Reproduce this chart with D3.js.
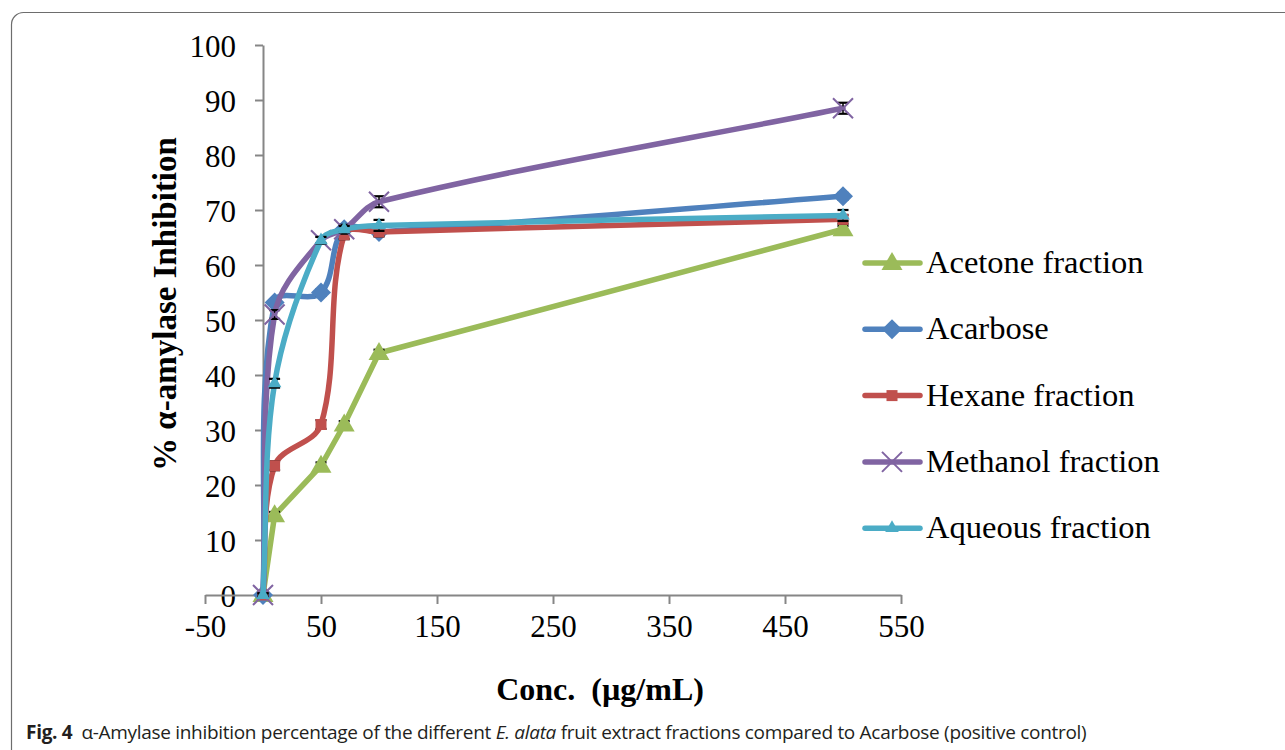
<!DOCTYPE html>
<html>
<head>
<meta charset="utf-8">
<script src="https://cdn.jsdelivr.net/npm/d3@7/dist/d3.min.js"></script>
<style>
  html, body { margin: 0; padding: 0; background: #fff; }
  svg { display: block; }
</style>
</head>
<body>
<svg id="chart" width="1285" height="750"></svg>
<script>
// Concentrations tested (µg/mL)
const concentrations = [0, 10, 50, 70, 100, 500];

// % α-amylase inhibition per fraction
const acetone  = [0, 14.5, 23.5, 31.0, 44.0, 66.5];
const acarbose = [0, 53.2, 55.0, 66.5, 66.0, 72.5];
const hexane   = [0, 23.5, 31.0, 65.5, 66.0, 68.3];
const methanol = [0, 51.0, 64.5, 66.5, 71.5, 88.5];
const aqueous  = [0, 38.5, 64.5, 66.5, 67.2, 69.0];

// Standard deviations (error bars)
const acetoneErr  = [0.3, 0.6, 0.6, 0.6, 0.6, 0.6];
const acarboseErr = [0.3, 0.6, 0.6, 0.6, 0.6, 0.6];
const hexaneErr   = [0.3, 0.8, 0.8, 0.8, 0.8, 0.8];
const methanolErr = [0.3, 0.8, 0.6, 0.8, 1.0, 1.0];
const aqueousErr  = [0.3, 0.8, 0.6, 0.6, 1.0, 1.0];

const seriesNames = ["Acetone fraction", "Acarbose", "Hexane fraction", "Methanol fraction", "Aqueous fraction"];
const seriesColors = ["#9BBB59", "#4F81BD", "#C0504D", "#8064A2", "#4BACC6"];

const xTicks = [-50, 50, 150, 250, 350, 450, 550];
const yTicks = [0, 10, 20, 30, 40, 50, 60, 70, 80, 90, 100];

const series = [
  { name: seriesNames[0], color: seriesColors[0], values: acetone,  err: acetoneErr,  marker: "triangle", smooth: false },
  { name: seriesNames[1], color: seriesColors[1], values: acarbose, err: acarboseErr, marker: "diamond",  smooth: true },
  { name: seriesNames[2], color: seriesColors[2], values: hexane,   err: hexaneErr,   marker: "square",   smooth: true },
  { name: seriesNames[3], color: seriesColors[3], values: methanol, err: methanolErr, marker: "cross",    smooth: true },
  { name: seriesNames[4], color: seriesColors[4], values: aqueous,  err: aqueousErr,  marker: "smalltri", smooth: true }
];

const svg = d3.select("#chart");
const serif = "'Liberation Serif', 'Times New Roman', serif";

// Rounded frame around figure
svg.append("rect")
  .attr("x", 11.5).attr("y", 12.5)
  .attr("width", 1300).attr("height", 760)
  .attr("rx", 12).attr("ry", 12)
  .attr("fill", "none")
  .attr("stroke", "#6d6d6d")
  .attr("stroke-width", 1.2);

const x = d3.scaleLinear().domain([-50, 550]).range([205, 901]);
const y = d3.scaleLinear().domain([0, 100]).range([595, 45]);

const axisColor = "#868686";

// Y axis at x = 0
const yAxis = svg.append("g")
  .attr("transform", `translate(${x(0)},0)`)
  .call(d3.axisLeft(y).tickValues(yTicks).tickSize(8).tickPadding(19).tickSizeOuter(0));
yAxis.select(".domain").attr("stroke", axisColor).attr("stroke-width", 2);
yAxis.selectAll(".tick line").attr("stroke", axisColor).attr("stroke-width", 2);
yAxis.selectAll(".tick text")
  .attr("fill", "#000").attr("font-family", serif).attr("font-size", 31)
  .attr("dy", "0.36em");

// X axis at y = 0
const xAxis = svg.append("g")
  .attr("transform", `translate(0,${y(0)})`)
  .call(d3.axisBottom(x).tickValues(xTicks).tickSize(9).tickPadding(14).tickSizeOuter(0));
xAxis.select(".domain").attr("stroke", axisColor).attr("stroke-width", 2);
xAxis.selectAll(".tick line").attr("stroke", axisColor).attr("stroke-width", 2);
xAxis.selectAll(".tick text")
  .attr("fill", "#000").attr("font-family", serif).attr("font-size", 31)
  .attr("dy", "0.62em")
  .text(d => d < 0 ? "-" + Math.abs(d) : d);

// Axis titles
svg.append("text")
  .attr("transform", `translate(176,304) rotate(-90)`)
  .attr("text-anchor", "middle")
  .attr("font-family", serif).attr("font-weight", "bold").attr("font-size", 33)
  .text("% α-amylase Inhibition");

svg.append("text")
  .attr("x", 600).attr("y", 700)
  .attr("text-anchor", "middle")
  .attr("font-family", serif).attr("font-weight", "bold").attr("font-size", 32)
  .attr("xml:space", "preserve")
  .text("Conc.  (µg/mL)");

// Spreadsheet-style smoothed line: cubic Bézier segments whose tangent
// at each point follows its neighbours, with handle length set by the
// length of the segment it belongs to (keeps long segments nearly straight).
function smoothPath(pts, k) {
  const p = d3.path();
  const n = pts.length;
  const tangent = i => {
    const a = pts[Math.max(0, i - 1)], b = pts[Math.min(n - 1, i + 1)];
    const dx = b[0] - a[0], dy = b[1] - a[1];
    const len = Math.hypot(dx, dy) || 1;
    return [dx / len, dy / len];
  };
  p.moveTo(pts[0][0], pts[0][1]);
  for (let i = 0; i < n - 1; i++) {
    const a = pts[i], b = pts[i + 1];
    const seg = Math.hypot(b[0] - a[0], b[1] - a[1]) * k;
    const ta = tangent(i), tb = tangent(i + 1);
    p.bezierCurveTo(a[0] + ta[0] * seg, a[1] + ta[1] * seg,
                    b[0] - tb[0] * seg, b[1] - tb[1] * seg,
                    b[0], b[1]);
  }
  return p.toString();
}

// Marker shapes
function drawMarker(g, type, color, cx, cy) {
  if (type === "triangle") {
    g.append("path").attr("d", d3.symbol(d3.symbolTriangle, 190)()).attr("transform", `translate(${cx},${cy + 1})`).attr("fill", color);
  } else if (type === "smalltri") {
    g.append("path").attr("d", d3.symbol(d3.symbolTriangle, 80)()).attr("transform", `translate(${cx},${cy})`).attr("fill", color);
  } else if (type === "diamond") {
    g.append("path").attr("d", "M0,-10L10,0L0,10L-10,0Z").attr("transform", `translate(${cx},${cy})`).attr("fill", color);
  } else if (type === "square") {
    g.append("rect").attr("x", cx - 5.5).attr("y", cy - 5.5).attr("width", 11).attr("height", 11).attr("fill", color);
  } else if (type === "cross") {
    g.append("path").attr("d", "M-10,-10L10,10M-10,10L10,-10").attr("transform", `translate(${cx},${cy})`)
      .attr("stroke", color).attr("stroke-width", 2).attr("fill", "none");
  }
}

const plot = svg.append("g");
series.forEach(s => {
  const pts = concentrations.map((c, i) => [x(c), y(s.values[i])]);
  const g = plot.append("g");
  g.append("path")
    .attr("d", s.smooth ? smoothPath(pts, 0.33) : d3.line()(pts))
    .attr("fill", "none")
    .attr("stroke", s.color)
    .attr("stroke-width", 5.5)
    .attr("stroke-linejoin", "round")
    .attr("stroke-linecap", "round");
  // error bars
  concentrations.forEach((c, i) => {
    const cx = x(c), yt = y(s.values[i] + s.err[i]), yb = y(s.values[i] - s.err[i]);
    g.append("line").attr("x1", cx).attr("x2", cx).attr("y1", yt).attr("y2", yb).attr("stroke", "#000").attr("stroke-width", 1.5);
    g.append("line").attr("x1", cx - 5.5).attr("x2", cx + 5.5).attr("y1", yt).attr("y2", yt).attr("stroke", "#000").attr("stroke-width", 2.2);
    g.append("line").attr("x1", cx - 5.5).attr("x2", cx + 5.5).attr("y1", yb).attr("y2", yb).attr("stroke", "#000").attr("stroke-width", 2.2);
  });
  pts.forEach(p => drawMarker(g, s.marker, s.color, p[0], p[1]));
});

// Legend
const legend = svg.append("g");
series.forEach((s, i) => {
  const ly = 263 + i * 66.3;
  const g = legend.append("g");
  g.append("line").attr("x1", 865).attr("x2", 920).attr("y1", ly).attr("y2", ly)
    .attr("stroke", s.color).attr("stroke-width", 5.5).attr("stroke-linecap", "round");
  drawMarker(g, s.marker, s.color, 892, ly);
  g.append("text")
    .attr("x", 926).attr("y", ly + 10)
    .attr("font-family", serif).attr("font-size", 32.5)
    .text(s.name);
});

// Caption
const cap = svg.append("text")
  .attr("x", 26).attr("y", 739)
  .attr("font-family", "'Open Sans', 'Noto Sans', sans-serif")
  .attr("font-size", 19)
  .attr("letter-spacing", -0.3)
  .attr("fill", "#231f20");
cap.append("tspan").attr("font-weight", "bold").text("Fig. 4");
cap.append("tspan").attr("dx", 9).text("α-Amylase inhibition percentage of the different ");
cap.append("tspan").attr("font-style", "italic").text("E. alata");
cap.append("tspan").text(" fruit extract fractions compared to Acarbose (positive control)");
</script>
</body>
</html>
